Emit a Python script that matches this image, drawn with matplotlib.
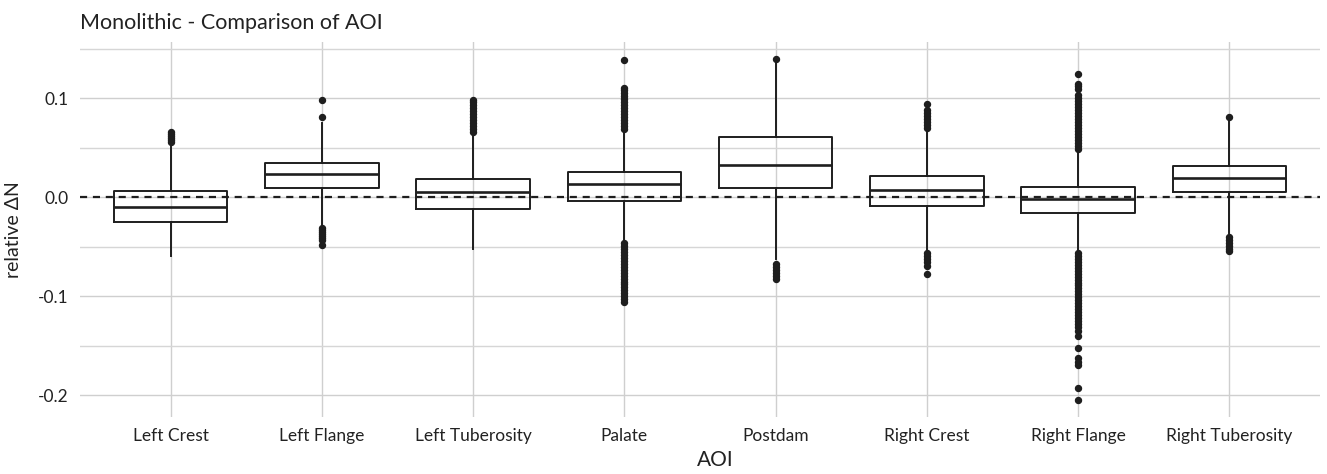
import matplotlib
matplotlib.use('Agg')
import matplotlib.pyplot as plt
from matplotlib.ticker import MultipleLocator

# box statistics
aoi = ['Left Crest', 'Left Flange', 'Left Tuberosity', 'Palate',
       'Postdam', 'Right Crest', 'Right Flange', 'Right Tuberosity']
q1 = [-0.025, 0.0094, -0.012, -0.0036, 0.0094, -0.0084, -0.016, 0.005]
med = [-0.010, 0.024, 0.005, 0.0135, 0.033, 0.007, -0.002, 0.0196]
q3 = [0.0066, 0.035, 0.0186, 0.026, 0.061, 0.022, 0.011, 0.032]
whislo = [-0.059, -0.029, -0.052, -0.045, -0.062, -0.055, -0.055, -0.036]
whishi = [0.055, 0.075, 0.065, 0.068, 0.138, 0.068, 0.048, 0.078]

# outliers
out_left_crest = [0.056, 0.058, 0.060, 0.062, 0.064, 0.066]
out_left_flange = [0.081, 0.098, -0.031, -0.033, -0.035, -0.037, -0.039,
                   -0.041, -0.043, -0.048]
out_left_tub = [0.066, 0.069, 0.072, 0.075, 0.078, 0.081, 0.084, 0.087,
                0.090, 0.093, 0.096, 0.098]
out_palate = [0.069, 0.072, 0.075, 0.078, 0.081, 0.084, 0.087, 0.090, 0.093,
              0.096, 0.099, 0.102, 0.105, 0.108, 0.111, 0.139,
              -0.046, -0.049, -0.052, -0.055, -0.058, -0.061, -0.064, -0.067,
              -0.070, -0.073, -0.076, -0.079, -0.082, -0.085, -0.088, -0.091,
              -0.094, -0.097, -0.100, -0.103, -0.106]
out_postdam = [0.140, -0.067, -0.070, -0.073, -0.076, -0.079, -0.082]
out_right_crest = [0.070, 0.073, 0.076, 0.079, 0.082, 0.085, 0.088, 0.094,
                   -0.056, -0.059, -0.062, -0.065, -0.069, -0.077]
out_right_flange = [0.049, 0.052, 0.055, 0.058, 0.061, 0.064, 0.067, 0.070,
                    0.073, 0.076, 0.079, 0.082, 0.085, 0.088, 0.091, 0.094,
                    0.097, 0.100, 0.103, 0.110, 0.113, 0.115, 0.125,
                    -0.056, -0.059, -0.062, -0.065, -0.068, -0.071, -0.074,
                    -0.077, -0.080, -0.083, -0.086, -0.089, -0.092, -0.095,
                    -0.098, -0.101, -0.104, -0.107, -0.110, -0.113, -0.116,
                    -0.119, -0.122, -0.125, -0.128, -0.131, -0.135, -0.140,
                    -0.152, -0.162, -0.166, -0.169, -0.193, -0.205]
out_right_tub = [0.081, -0.040, -0.043, -0.046, -0.049, -0.052, -0.054]

fliers = [out_left_crest, out_left_flange, out_left_tub, out_palate,
          out_postdam, out_right_crest, out_right_flange, out_right_tub]


def main():
    plt.rcParams['font.family'] = ['Lato', 'DejaVu Sans']

    stats = []
    for i in range(len(aoi)):
        stats.append(dict(label=aoi[i], q1=q1[i], med=med[i], q3=q3[i],
                          whislo=whislo[i], whishi=whishi[i],
                          fliers=fliers[i]))

    fig = plt.figure(figsize=(13.27, 4.74), dpi=100)
    ax = fig.add_axes([0.0603, 0.120, 0.9344, 0.7914])

    ink = '#1e1e1e'
    ax.axhline(0, color=ink, lw=1.6, ls=(0, (3.2, 2.6)), zorder=1)
    ax.bxp(stats, positions=range(1, len(aoi) + 1), widths=0.75,
           showcaps=False, patch_artist=False,
           boxprops=dict(color=ink, lw=1.4),
           whiskerprops=dict(color=ink, lw=1.4),
           medianprops=dict(color=ink, lw=1.9),
           flierprops=dict(marker='o', markersize=4.3, markerfacecolor=ink,
                           markeredgecolor=ink, ls='none'),
           manage_ticks=False, zorder=3)

    ax.set_xlim(0.4, 8.6)
    ax.set_ylim(-0.222, 0.157)
    ax.set_xticks(range(1, len(aoi) + 1))
    ax.set_xticklabels(aoi)
    ax.set_yticks([-0.2, -0.1, 0.0, 0.1])
    ax.set_yticklabels(['-0.2', '-0.1', '0.0', '0.1'])
    ax.yaxis.set_minor_locator(MultipleLocator(0.05))

    ax.grid(True, which='major', color='#cfcfcf', lw=1.0, zorder=0)
    ax.grid(True, which='minor', axis='y', color='#d6d6d6', lw=1.0, zorder=0)
    ax.set_axisbelow(True)
    for s in ax.spines.values():
        s.set_visible(False)
    ax.tick_params(which='both', length=0, labelsize=12.5, colors='#222222',
                   pad=8)

    ax.set_xlabel('AOI', fontsize=15, color='#222222')
    ax.xaxis.set_label_coords(0.512, -0.088)
    ax.set_ylabel('relative \u0394N', fontsize=14, color='#222222')
    ax.yaxis.set_label_coords(-0.047, 0.5)
    ax.set_title('Monolithic - Comparison of AOI', loc='left', fontsize=15.5,
                 color='#222222', pad=9)

    fig.savefig('out.png', dpi=100)


if __name__ == '__main__':
    main()
